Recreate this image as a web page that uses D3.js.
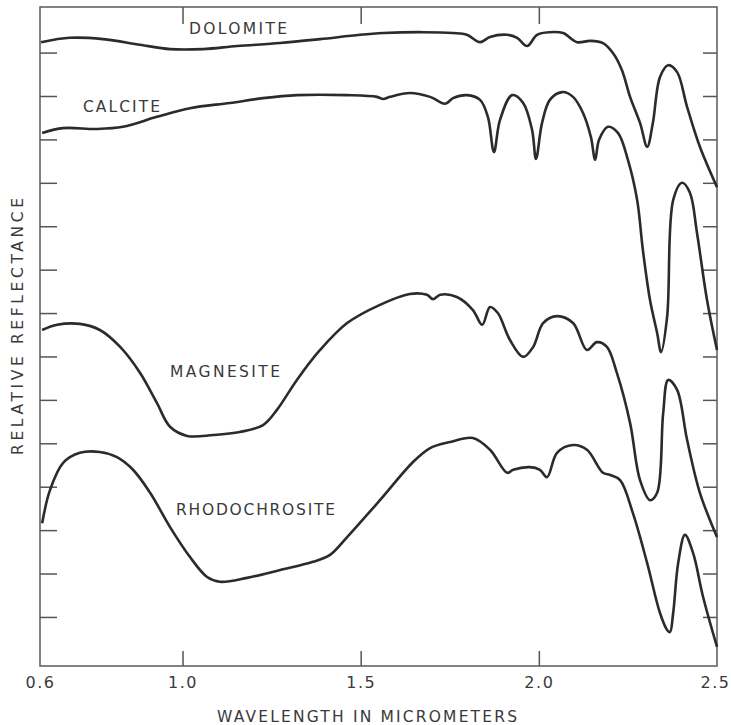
<!DOCTYPE html>
<html>
<head>
<meta charset="utf-8">
<script src="https://cdn.jsdelivr.net/npm/d3@7"></script>
<style>
  html, body { margin: 0; padding: 0; background: #fff; }
  svg { display: block; }
  text { font-family: "DejaVu Sans", "Lato", sans-serif; fill: #3a3a3a; }
</style>
</head>
<body>
<svg id="chart" width="731" height="725"></svg>
<script>
// wavelength (micrometers) vs relative reflectance, curves offset vertically
const minerals = ["DOLOMITE", "CALCITE", "MAGNESITE", "RHODOCHROSITE"];

const dolomite = [[0.603,14.24],[0.684,14.34],[0.777,14.31],[0.881,14.18],[0.965,14.08],[1.057,14.08],[1.153,14.15],[1.274,14.22],[1.386,14.31],[1.498,14.41],[1.563,14.45],[1.675,14.47],[1.759,14.45],[1.798,14.41],[1.835,14.24],[1.863,14.36],[1.911,14.41],[1.939,14.34],[1.967,14.15],[1.995,14.41],[2.031,14.47],[2.068,14.45],[2.107,14.24],[2.144,14.27],[2.180,14.22],[2.208,13.99],[2.233,13.60],[2.256,12.98],[2.284,12.38],[2.304,11.83],[2.320,12.38],[2.340,13.44],[2.363,13.71],[2.388,13.55],[2.416,12.75],[2.452,11.83],[2.500,10.90]];

const calcite = [[0.606,12.15],[0.665,12.26],[0.760,12.24],[0.833,12.29],[0.928,12.52],[1.021,12.72],[1.133,12.84],[1.226,12.95],[1.321,13.02],[1.462,13.02],[1.546,12.98],[1.563,12.93],[1.582,12.98],[1.638,13.07],[1.695,12.98],[1.737,12.82],[1.759,12.95],[1.798,13.02],[1.835,12.91],[1.857,12.52],[1.874,11.71],[1.891,12.45],[1.925,13.02],[1.956,12.84],[1.981,12.22],[1.992,11.55],[2.009,12.38],[2.031,12.91],[2.065,13.09],[2.096,12.98],[2.124,12.61],[2.146,12.06],[2.158,11.53],[2.169,11.99],[2.194,12.29],[2.222,12.15],[2.250,11.53],[2.276,10.60],[2.292,9.45],[2.312,8.30],[2.332,7.54],[2.343,7.10],[2.360,7.91],[2.377,10.60],[2.402,11.00],[2.424,10.77],[2.444,9.84],[2.472,8.30],[2.500,7.15]];

const magnesite = [[0.606,7.61],[0.648,7.73],[0.712,7.75],[0.768,7.61],[0.825,7.22],[0.881,6.62],[0.928,5.93],[0.965,5.38],[1.013,5.17],[1.086,5.19],[1.161,5.26],[1.226,5.42],[1.265,5.77],[1.321,6.46],[1.386,7.15],[1.462,7.77],[1.554,8.19],[1.638,8.44],[1.686,8.42],[1.703,8.32],[1.723,8.42],[1.770,8.37],[1.815,8.07],[1.841,7.73],[1.863,8.14],[1.885,8.00],[1.919,7.38],[1.956,6.99],[1.984,7.22],[2.012,7.77],[2.051,7.93],[2.096,7.77],[2.135,7.15],[2.163,7.33],[2.191,7.22],[2.219,6.62],[2.256,5.47],[2.284,4.15],[2.312,3.69],[2.332,3.86],[2.349,5.70],[2.363,6.46],[2.388,6.23],[2.416,5.08],[2.452,3.86],[2.500,2.84]];

const rhodochrosite = [[0.606,3.16],[0.628,3.92],[0.665,4.55],[0.712,4.78],[0.768,4.80],[0.816,4.68],[0.861,4.39],[0.909,3.86],[0.965,3.07],[1.021,2.38],[1.069,1.92],[1.105,1.81],[1.181,1.90],[1.274,2.08],[1.366,2.27],[1.414,2.43],[1.462,2.84],[1.554,3.69],[1.647,4.57],[1.695,4.89],[1.751,5.03],[1.815,5.12],[1.863,4.85],[1.911,4.32],[1.928,4.39],[1.975,4.45],[2.003,4.39],[2.023,4.22],[2.051,4.78],[2.096,4.96],[2.135,4.85],[2.180,4.32],[2.200,4.27],[2.228,4.15],[2.264,3.39],[2.304,2.24],[2.340,1.09],[2.360,0.70],[2.368,0.65],[2.377,1.09],[2.391,2.24],[2.410,2.89],[2.433,2.47],[2.461,1.46],[2.500,0.31]];

const wavelengthTicks = [0.6, 1.0, 1.5, 2.0, 2.5];
const innerWavelengthTicks = [1.0, 1.5, 2.0];
const reflectanceTicks = [1, 2, 3, 4, 5, 6, 7, 8, 9, 10, 11, 12, 13, 14];

const svg = d3.select("#chart");

const x = d3.scaleLinear().domain([0.6, 2.5]).range([40, 717]);
const y = d3.scaleLinear().domain([-0.13, 15.05]).range([666, 7]);

// inner ticks, left and right
svg.append("g")
  .attr("transform", "translate(40,0)")
  .call(d3.axisLeft(y).tickValues(reflectanceTicks).tickSize(-17).tickFormat(""))
  .call(g => g.select(".domain").remove())
  .selectAll("line").attr("stroke", "#555").attr("stroke-width", 1.5);

svg.append("g")
  .attr("transform", "translate(717,0)")
  .call(d3.axisRight(y).tickValues(reflectanceTicks).tickSize(-14).tickFormat(""))
  .call(g => g.select(".domain").remove())
  .selectAll("line").attr("stroke", "#555").attr("stroke-width", 1.5);

// top ticks
svg.append("g")
  .attr("transform", "translate(0,7)")
  .call(d3.axisTop(x).tickValues(innerWavelengthTicks).tickSize(-17).tickFormat(""))
  .call(g => g.select(".domain").remove())
  .selectAll("line").attr("stroke", "#555").attr("stroke-width", 1.5);

// bottom ticks + labels
const bottom = svg.append("g")
  .attr("transform", "translate(0,666)")
  .call(d3.axisBottom(x).tickValues(wavelengthTicks).tickSize(-15).tickPadding(11).tickFormat(d3.format(".1f")))
  .call(g => g.select(".domain").remove());
bottom.selectAll("line")
  .attr("stroke", "#555").attr("stroke-width", 1.5)
  .attr("display", d => innerWavelengthTicks.includes(d) ? null : "none");
bottom.selectAll("text")
  .attr("font-size", 16).attr("letter-spacing", 1.5)
  .style("font-family", "'DejaVu Sans', Lato, sans-serif")
  .attr("fill", "#3a3a3a");
// last label sits flush with the page edge
bottom.selectAll("text")
  .filter(d => d === 2.5)
  .attr("text-anchor", "end")
  .attr("x", 13);

// frame
svg.append("rect")
  .attr("x", x(0.6)).attr("y", y(15.05))
  .attr("width", x(2.5) - x(0.6)).attr("height", y(-0.13) - y(15.05))
  .attr("fill", "none").attr("stroke", "#5a5a5a").attr("stroke-width", 1.5);

// curves
const line = d3.line()
  .x(d => x(d[0]))
  .y(d => y(d[1]))
  .curve(d3.curveCatmullRom.alpha(0.5));

[dolomite, calcite, magnesite, rhodochrosite].forEach(series => {
  svg.append("path")
    .datum(series)
    .attr("d", line)
    .attr("fill", "none")
    .attr("stroke", "#2b2b2b")
    .attr("stroke-width", 2.6)
    .attr("stroke-linejoin", "round");
});

// curve labels
const labelPos = [
  {x: 189, y: 34, w: 98},
  {x: 83, y: 112, w: 77},
  {x: 170, y: 377, w: 110},
  {x: 176, y: 515, w: 159}
];
minerals.forEach((name, i) => {
  svg.append("text")
    .attr("x", labelPos[i].x).attr("y", labelPos[i].y)
    .attr("font-size", 15.5)
    .attr("textLength", labelPos[i].w).attr("lengthAdjust", "spacing")
    .text(name);
});

// axis titles
svg.append("text")
  .attr("x", 217).attr("y", 722)
  .attr("font-size", 15.5)
  .attr("textLength", 300).attr("lengthAdjust", "spacing")
  .text("WAVELENGTH IN MICROMETERS");

svg.append("text")
  .attr("transform", "translate(23,455) rotate(-90)")
  .attr("font-size", 15.5)
  .attr("textLength", 257).attr("lengthAdjust", "spacing")
  .text("RELATIVE REFLECTANCE");
</script>
</body>
</html>
